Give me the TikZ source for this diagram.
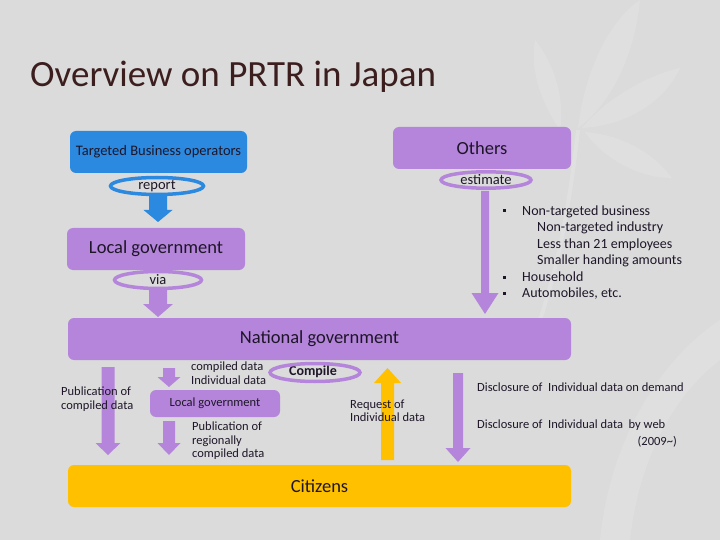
\documentclass[tikz,border=0pt]{standalone}
\usepackage{fontspec}
\setmainfont{Carlito}
\usetikzlibrary{shapes.geometric,calc}
\definecolor{bgc}{RGB}{219,219,219}
\definecolor{bluec}{RGB}{43,137,224}
\definecolor{purc}{RGB}{180,133,218}
\definecolor{yelc}{RGB}{255,192,0}
\definecolor{titc}{RGB}{60,30,30}
\definecolor{txtc}{RGB}{30,22,40}
% block arrow: color, start coordinate, end coordinate, shaft half width, head half width, head length
\newcommand\blkarrow[6]{%
  \fill[#1] let \p1=(#2), \p2=(#3), \n1={\y2-sign(\y2-\y1)*#6pt} in
    (\x1-#4pt,\y1) -- (\x1-#4pt,\n1) -- (\x1-#5pt,\n1) -- (\x2,\y2) --
    (\x1+#5pt,\n1) -- (\x1+#4pt,\n1) -- (\x1+#4pt,\y1) -- cycle;}
\tikzset{
  box/.style={rectangle, rounded corners=6pt, inner sep=0pt, text=txtc},
  lbl/.style={inner sep=0pt, text=txtc},
  ring/.style={line width=3.5pt},
  leaf/.style={fill=white, opacity=0.13},
  fbig/.style={font=\fontsize{18.5}{20}\selectfont},
  fmid/.style={font=\fontsize{14.5}{16}\selectfont},
  fsm/.style={font=\fontsize{12.5}{13.5}\selectfont},
  fbl/.style={font=\fontsize{14}{16}\selectfont},
  bul/.style={rectangle, fill=txtc, minimum size=3pt, inner sep=0pt},
}
\begin{document}
\begin{tikzpicture}[x=1pt,y=-1pt]
\fill[bgc] (0,0) rectangle (720,540);
\useasboundingbox (0,0) rectangle (720,540);

% faint background leaves
\fill[leaf] (578,128) .. controls (585,70) and (610,20) .. (640,0) .. controls (635,50) and (615,100) .. (578,128) -- cycle;
\fill[leaf] (582,128) .. controls (610,95) and (650,75) .. (680,68) .. controls (665,100) and (630,125) .. (582,128) -- cycle;
\fill[leaf] (585,132) .. controls (620,135) and (650,150) .. (672,178) .. controls (640,178) and (605,160) .. (585,132) -- cycle;
\fill[leaf] (560,130) .. controls (540,100) and (530,70) .. (535,40) .. controls (555,65) and (565,100) .. (560,130) -- cycle;
\draw[white, opacity=0.15, line width=4pt] (578,130) .. controls (570,200) and (560,260) .. (540,320);
\fill[leaf] (600,540) .. controls (610,440) and (660,360) .. (720,320) -- (720,360) .. controls (680,390) and (640,450) .. (630,540) -- cycle;

\node[anchor=base west, inner sep=0pt, text=titc, font=\fontsize{37}{40}\selectfont] (title) at (30,87) {Overview on PRTR in Japan};

% boxes
\node[box, fill=bluec, minimum width=177pt, minimum height=42pt, fmid] (tbo) at (158.5,152) {Targeted Business operators};
\node[box, fill=purc, minimum width=178pt, minimum height=42pt, fbig] (oth) at (482,148) {Others};
\node[box, fill=purc, minimum width=178pt, minimum height=42pt, fbig] (lg) at (156,249) {Local government};
\node[box, fill=purc, minimum width=503pt, minimum height=42pt, fbig] (ng) at (319.5,339) {National government};
\node[box, fill=purc, minimum width=130pt, minimum height=27pt, fsm] (lg2) at (215,403.5) {Local government};
\node[box, fill=yelc, minimum width=503pt, minimum height=42pt, fbig] (cit) at (319.5,486) {Citizens};

% ellipse labels
\node[lbl, fmid] (rep) at (157,186) {report};
\draw[bluec, ring] (rep) ellipse [x radius=46.5pt, y radius=8.5pt];
\node[lbl, fmid] (est) at (486,180) {estimate};
\draw[purc, ring] (est) ellipse [x radius=45pt, y radius=8.2pt];
\node[lbl, fmid] (via) at (158,280) {via};
\draw[purc, ring] (via) ellipse [x radius=43.5pt, y radius=8.5pt];
\node[lbl, font=\fontsize{14}{16}\selectfont\bfseries] (cmp) at (313,372) {Compile};
\draw[purc, ring] (315,372.5) ellipse [x radius=45pt, y radius=9pt];

% arrows
\coordinate (a1s) at (158,196); \coordinate (a1e) at (158,222);
\blkarrow{bluec}{a1s}{a1e}{9}{14.5}{12}
\coordinate (a2s) at (158,289); \coordinate (a2e) at (158,317);
\blkarrow{purc}{a2s}{a2e}{9}{15}{13}
\coordinate (a3s) at (485,191); \coordinate (a3e) at (485,314);
\blkarrow{purc}{a3s}{a3e}{4}{13.5}{21}
\coordinate (a4s) at (108,367); \coordinate (a4e) at (108,455);
\blkarrow{purc}{a4s}{a4e}{6.5}{12.5}{12}
\coordinate (a5s) at (169,368); \coordinate (a5e) at (169,387);
\blkarrow{purc}{a5s}{a5e}{6}{11.5}{10}
\coordinate (a6s) at (169,421); \coordinate (a6e) at (169,455);
\blkarrow{purc}{a6s}{a6e}{6}{11.5}{12}
\coordinate (a7s) at (387.5,460); \coordinate (a7e) at (387.5,368);
\blkarrow{yelc}{a7s}{a7e}{6.5}{13.5}{15}
\coordinate (a8s) at (458,373); \coordinate (a8e) at (458,462);
\blkarrow{purc}{a8s}{a8e}{5}{12.5}{14}

% bullet list
\node[bul] (b1) at (504,211) {};
\node[bul] (b2) at (504,277) {};
\node[bul] (b3) at (504,293.5) {};
\node[lbl, anchor=base west, fbl] (l1) at (522,215) {Non-targeted business};
\node[lbl, anchor=base west, fbl] (l2) at (537,231.5) {Non-targeted industry};
\node[lbl, anchor=base west, fbl] (l3) at (537,248) {Less than 21 employees};
\node[lbl, anchor=base west, fbl] (l4) at (537,264.5) {Smaller handing amounts};
\node[lbl, anchor=base west, fbl] (l5) at (522,281) {Household};
\node[lbl, anchor=base west, fbl] (l6) at (522,297.5) {Automobiles, etc.};

% lower texts
\node[lbl, fsm, anchor=west, align=left] (t1) at (191,373) {compiled data\\Individual data};
\node[lbl, fsm, anchor=west, align=left] (t2) at (61,399) {Publication of\\compiled data};
\node[lbl, fsm, anchor=west, align=left] (t3) at (192,441) {Publication of\\regionally\\compiled data};
\node[lbl, fsm, anchor=west, align=left] (t4) at (350,411) {Request of\\Individual data};
\node[lbl, fsm, anchor=base west] (t5) at (477,391) {Disclosure of~ Individual data on demand};
\node[lbl, fsm, anchor=base west] (t6) at (477,428) {Disclosure of~ Individual data~ by web};
\node[lbl, fsm, anchor=base east] (t7) at (677,445) {(2009\textasciitilde)};
\end{tikzpicture}
\end{document}
